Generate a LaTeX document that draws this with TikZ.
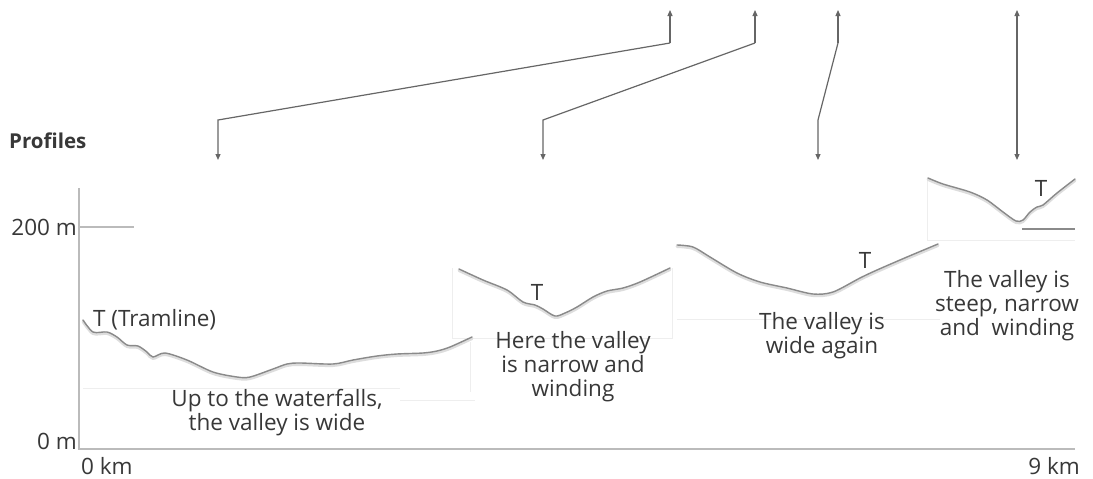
\documentclass[tikz,border=0pt]{standalone}
\usepackage{fontspec}
\setmainfont{Open Sans}
\usetikzlibrary{arrows.meta}
\definecolor{axisgray}{HTML}{BBBBBB}
\definecolor{arrowgray}{HTML}{666666}
\definecolor{txtgray}{HTML}{383838}
\definecolor{curvegray}{HTML}{8A8A8A}
\definecolor{shadowgray}{HTML}{DDDDDD}
\definecolor{panelgray}{HTML}{EEEEEE}
\tikzset{
  lbl/.style={text=txtgray, font=\fontsize{22.5}{24}\selectfont, inner sep=0pt, align=center},
  axisline/.style={draw=axisgray, line width=1.2pt},
  pointer/.style={draw=arrowgray, line width=1.2pt, -{Triangle[length=6pt,width=5pt]}},
  dpointer/.style={draw=arrowgray, line width=1.2pt, {Triangle[length=6pt,width=5pt]}-{Triangle[length=6pt,width=5pt]}},
  prof/.style={draw=curvegray, line width=1.4pt, line join=round, line cap=round},
  profshadow/.style={draw=shadowgray, line width=3pt, line join=round, line cap=round},
  edge/.style={draw=panelgray, line width=0.8pt},
}
\begin{document}
\begin{tikzpicture}[x=1pt,y=-1pt]
\useasboundingbox (0,0) rectangle (1093,479);
\fill[white] (0,0) rectangle (1093,479);

% faint panels
\draw[edge] (83,388) -- (400,388);
\draw[edge] (400,400) -- (475,400);
\draw[edge] (470,342) -- (470,392);
\draw[edge] (452,268) -- (452,338) -- (672,338) -- (672,268);
\draw[edge] (677,319) -- (940,319);
\draw[edge] (927,178) -- (927,240) -- (1075,240);

% axes
\coordinate (ytop) at (79,188);
\coordinate (orig) at (79,449);
\coordinate (xend) at (1075,449);
\coordinate (t200a) at (79,227);
\coordinate (t200b) at (134,227);
\draw[axisline] (ytop) -- (orig) -- (xend);
\draw[axisline] (t200a) -- (t200b);

\node[lbl, anchor=east] (l200) at (77,227) {200 m};
\node[lbl, anchor=east] (l0) at (77,441) {0 m};
\node[lbl, anchor=west] (k0) at (81,466) {0 km};
\node[lbl, anchor=east] (k9) at (1080,466) {9 km};
\node[lbl, anchor=west, font=\fontsize{20.5}{24}\selectfont\bfseries] (prof) at (9,141) {Profiles};

% profile 1
\foreach \s/\dy in {profshadow/1.5, prof/0}{
\draw[\s, yshift=-\dy pt] plot[smooth, tension=0.5] coordinates {
 (83,320) (93,332) (107,332) (117,337) (127,345) (138,346) (147,352) (153,357)
 (165,353) (187,360) (213,372) (237,377) (250,377) (273,369) (287,364) (300,363)
 (333,364) (353,360) (377,356) (397,354) (423,353) (437,351) (450,347) (472,337)};
}
% profile 2
\foreach \s/\dy in {profshadow/1.5, prof/0}{
\draw[\s, yshift=-\dy pt] plot[smooth, tension=0.5] coordinates {
 (459,269) (483,280) (507,290) (523,302) (535,305) (543,309) (555,316) (565,313)
 (577,307) (593,297) (607,291) (623,288) (640,282) (670,268)};
}
% profile 3
\foreach \s/\dy in {profshadow/1.5, prof/0}{
\draw[\s, yshift=-\dy pt] plot[smooth, tension=0.5] coordinates {
 (677,245) (693,247) (710,257) (737,273) (760,282) (787,288) (813,294) (833,292)
 (860,278) (877,270) (907,257) (938,244)};
}
% profile 4
\foreach \s/\dy in {profshadow/1.5, prof/0}{
\draw[\s, yshift=-\dy pt] plot[smooth, tension=0.5] coordinates {
 (928,178) (943,184) (970,192) (987,200) (1003,212) (1016,221) (1023,220)
 (1030,212) (1037,207) (1043,205) (1057,193) (1075,179)};
}
\coordinate (base4a) at (1022,229);
\coordinate (base4b) at (1075,229);
\draw[draw=curvegray, line width=1.2pt] (base4a) -- (base4b);

% T labels
\node[lbl, anchor=west] (tram) at (93,320) {T (Tramline)};
\node[lbl] (t2) at (537,292) {T};
\node[lbl] (t3) at (865,260) {T};
\node[lbl] (t4) at (1041,188) {T};

% captions
\node[lbl] (c1) at (277,413) {Up to the waterfalls,\\the valley is wide};
\node[lbl] (c2) at (573,367) {Here the valley\\is narrow and\\winding};
\node[lbl] (c3) at (822,336) {The valley is\\wide again};
\node[lbl] (c4) at (1007,306) {The valley is\\steep, narrow\\and\ \ winding};

% pointers
\coordinate (a1s) at (670,43);  \coordinate (a1e) at (670,10);
\coordinate (a1m) at (218,120); \coordinate (a1t) at (218,160);
\coordinate (a2s) at (755,43);  \coordinate (a2e) at (755,10);
\coordinate (a2m) at (543,120); \coordinate (a2t) at (543,160);
\coordinate (a3s) at (838,43);  \coordinate (a3e) at (838,10);
\coordinate (a3m) at (818,120); \coordinate (a3t) at (818,160);
\coordinate (a4e) at (1017,10); \coordinate (a4t) at (1017,160);
\draw[pointer] (a1s) -- (a1e);
\draw[pointer] (a1s) -- (a1m) -- (a1t);
\draw[pointer] (a2s) -- (a2e);
\draw[pointer] (a2s) -- (a2m) -- (a2t);
\draw[pointer] (a3s) -- (a3e);
\draw[pointer] (a3s) -- (a3m) -- (a3t);
\draw[dpointer] (a4e) -- (a4t);
\end{tikzpicture}
\end{document}
